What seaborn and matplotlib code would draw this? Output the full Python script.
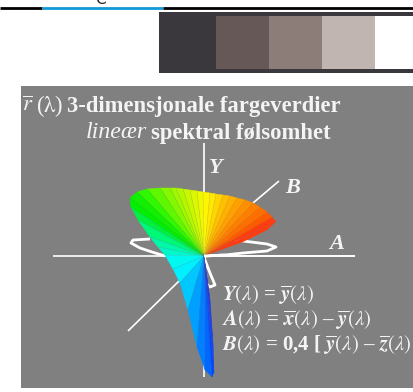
import matplotlib
matplotlib.use('Agg')
import matplotlib.pyplot as plt
import pandas as pd
import seaborn as sns

fan_x = [276, 272, 267, 260, 253, 245, 237, 230, 223, 216, 210, 203, 197, 190, 183, 176, 170, 160, 147, 137, 130, 131, 138,
         150, 158, 165, 173, 180, 188, 197, 205, 212, 214, 213, 210, 205]
fan_y = [222, 217, 212, 207, 203, 200, 198, 196, 195, 194, 193, 192, 191, 190, 189, 188, 188, 188, 189, 192, 198, 207, 220,
         237, 247, 255, 269, 283, 310, 347, 370, 377, 372, 343, 300, 267]
fan_colors = ['#ff3c10', '#ff5a00', '#ff6e00', '#ff7e00', '#ff8f00', '#ffa000', '#ffb000', '#ffc000', '#ffd400', '#ffe800',
              '#fff500', '#f0f800', '#dcf800', '#c8f800', '#b4f800', '#a0f800', '#84f800', '#60f800', '#30f800', '#10f000',
              '#00f000', '#00f040', '#00f878', '#00f8a8', '#00f8c8', '#00f8f0', '#00f0ff', '#00c8ff', '#00a0ff', '#0080ff',
              '#0068ff', '#0048ff', '#1040ff', '#1a38f0', '#2030e0', '#2030e0']

# lower red edge of the fan, from the origin out to the tip
red_edge_x = [204, 243, 267, 276]
red_edge_y = [256, 242, 230, 222]

loop_right_x = [204, 225, 243, 267, 276, 267, 243, 225]
loop_right_y = [256, 255, 253, 251, 247, 244, 241, 239]
loop_left_x = [150, 133, 131, 140, 152, 165]
loop_left_y = [239, 240, 243, 248, 252, 256]
loop_low_x = [204, 205, 210, 215, 210, 204]
loop_low_y = [256, 260, 273, 285, 287, 282]

axis_a = ([53, 355], [256, 256])
axis_y = ([204, 204], [143, 377])
axis_b = ([128, 179], [331, 281])
axis_b_top = ([253, 279], [203, 181])

swatch_left = [216, 269, 322, 375]
swatch_colors = ['#655856', '#8c7d79', '#c0b5b1', '#ffffff']

sns.set_theme(style='white')
plt.rcParams['mathtext.fontset'] = 'stix'
plt.rcParams['font.family'] = ['Liberation Serif', 'DejaVu Serif']

fig = plt.figure(figsize=(4.14, 3.92), dpi=100)
ax = fig.add_axes([0, 0, 1, 1])
ax.set_xlim(0, 414)
ax.set_ylim(392, 0)
ax.axis('off')


def line(xs, ys, color='white', lw=1.0, z=3):
    df = pd.DataFrame({'x': xs, 'y': ys})
    sns.lineplot(data=df, x='x', y='y', sort=False, estimator=None, color=color, lw=lw, ax=ax, zorder=z,
                 solid_capstyle='butt', legend=False)


# page bits on top
line([0, 42], [8, 8], 'black', 2)
line([42, 163], [8, 8], '#0f9bd7', 2)
line([163, 414], [8, 8], 'black', 2)
ax.text(100, -1, 'C', fontsize=11, color='#222222', family='DejaVu Sans', ha='center', va='center', clip_on=True)

# swatches
ax.fill([159, 414, 414, 159], [12, 12, 73, 73], color='#3a383c', lw=0)
for left, c in zip(swatch_left, swatch_colors):
    ax.fill([left, left + 53, left + 53, left], [16, 16, 69, 69], color=c, lw=0)

# grey panel
ax.fill([21, 414, 414, 21], [86, 86, 388, 388], color='#808080', lw=0)

line(*axis_a, lw=1.2)
line(*axis_y, lw=1.2)
line(*axis_b, lw=1.2)
line(*axis_b_top, lw=1.2)

line(loop_right_x, loop_right_y, lw=2, z=3)
line(loop_left_x, loop_left_y, lw=2, z=3)
line(loop_low_x, loop_low_y, lw=2, z=3)

# fan of wedges from the origin
for i in range(len(fan_x) - 1):
    ax.fill([204, fan_x[i], fan_x[i + 1]], [256, fan_y[i], fan_y[i + 1]], facecolor=fan_colors[i],
            edgecolor=fan_colors[i], lw=0.3, zorder=4)
    ax.plot([204, fan_x[i]], [256, fan_y[i]], color='#707070', lw=0.3, alpha=0.35, zorder=4.5)
ax.fill(red_edge_x + [fan_x[0]], red_edge_y + [fan_y[0]], color='#ff3c10', lw=0, zorder=4)

# origin sits on top of the fan, on the right side only
line([204, 225], [256, 255], lw=2, z=5)
line([204, 355], [256, 256], lw=1.2, z=5)

txt = '#f4f4f4'
ax.text(22, 106, r'$\overline{\mathit{r}}$', color=txt, fontsize=16.3, va='center')
ax.text(36, 106, r'($\mathrm{\lambda}$)', color=txt, fontsize=16.3, va='center')
ax.text(67, 106, '3-dimensjonale fargeverdier', color=txt, fontsize=16.3, fontweight='bold', va='center')
ax.text(86, 133, 'lineær', color=txt, fontsize=17.3, fontstyle='italic', va='center')
ax.text(151, 133, 'spektral følsomhet', color=txt, fontsize=16.3, fontweight='bold', va='center')

for s, x, y in [('Y', 209, 168), ('B', 285, 188), ('A', 329, 244)]:
    ax.text(x, y, s, color=txt, fontsize=16, fontweight='bold', fontstyle='italic', va='center')

ax.text(222, 295, r'$\mathbfit{Y}(\lambda)$ = $\overline{\mathbfit{y}}(\lambda)$', color=txt, fontsize=15,
        fontweight='bold', va='center')
ax.text(222, 320, r'$\mathbfit{A}(\lambda)$ = $\overline{\mathbfit{x}}(\lambda)$ – $\overline{\mathbfit{y}}(\lambda)$',
        color=txt, fontsize=15, fontweight='bold', va='center')
ax.text(222, 345, r'$\mathbfit{B}(\lambda)$ = 0,4 [ $\overline{\mathbfit{y}}(\lambda)$ – $\overline{\mathbfit{z}}(\lambda)$',
        color=txt, fontsize=15, fontweight='bold', va='center')

fig.savefig('out.png', dpi=100)
